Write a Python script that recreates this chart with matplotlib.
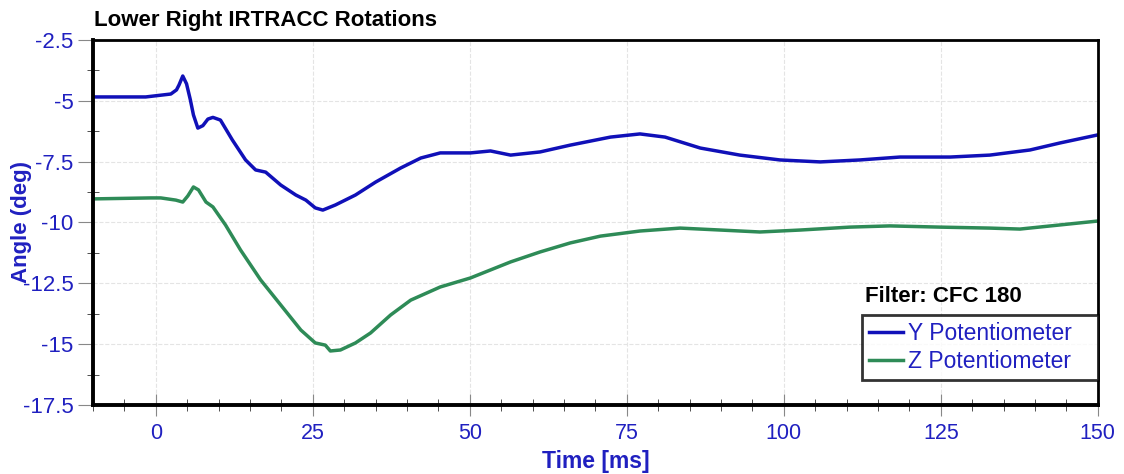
import matplotlib.pyplot as plt
from matplotlib.ticker import MultipleLocator

plt.rcParams['font.family'] = ['Liberation Sans', 'DejaVu Sans']

# Y potentiometer
t_y = [-10, -1.6, 2.4, 3.3, 3.7, 4.3, 4.9, 5.5, 6.0, 6.7, 7.5, 8.3, 9.1, 10.3,
       12.2, 14.3, 15.9, 17.5, 19.9, 22.3, 23.9, 25.4, 26.6, 28.6, 31.8, 35,
       39, 42.2, 45.3, 50.1, 53.3, 56.5, 61.2, 66, 72.4, 77.1, 81.1, 86.7, 93,
       99.4, 105.8, 112.1, 118.5, 126.5, 132.8, 139.2, 144, 150]
y_pot = [-4.84, -4.84, -4.72, -4.55, -4.35, -3.98, -4.30, -4.95, -5.58, -6.12,
         -6.02, -5.75, -5.68, -5.79, -6.61, -7.43, -7.84, -7.93, -8.46, -8.87,
         -9.08, -9.40, -9.49, -9.28, -8.87, -8.34, -7.76, -7.35, -7.14, -7.14,
         -7.06, -7.23, -7.10, -6.82, -6.49, -6.36, -6.49, -6.94, -7.23, -7.43,
         -7.51, -7.43, -7.31, -7.31, -7.23, -7.02, -6.73, -6.40]

# Z potentiometer
t_z = [-10, -0.8, 0.8, 3.2, 4.3, 5.1, 6.0, 6.8, 8.0, 9.1, 11.1, 13.5, 16.7, 19.9,
       23.1, 25.4, 27, 27.8, 29.4, 31.8, 34.2, 37.4, 40.6, 45.3, 50.1, 53.3,
       56.5, 61.2, 66, 70.8, 77.1, 83.5, 89.9, 96.2, 102.6, 110.5, 116.9, 124.9,
       132.8, 137.6, 144, 150]
z_pot = [-9.03, -8.99, -8.99, -9.08, -9.16, -8.91, -8.54, -8.66, -9.16, -9.36,
         -10.1, -11.13, -12.36, -13.39, -14.42, -14.95, -15.04, -15.28, -15.24,
         -14.95, -14.54, -13.8, -13.19, -12.65, -12.28, -11.95, -11.62, -11.21,
         -10.84, -10.56, -10.35, -10.23, -10.31, -10.39, -10.31, -10.19, -10.14,
         -10.19, -10.23, -10.27, -10.1, -9.94]

blue = '#1010b8'
label_blue = '#2020c0'
green = '#2e8b57'

fig = plt.figure(figsize=(11.24, 4.74), dpi=100)
ax = fig.add_axes([0.0827, 0.1456, 0.894, 0.77])

# trailing spaces give the wider right margin seen in the legend box
ax.plot(t_y, y_pot, color=blue, lw=2.5, label='Y Potentiometer   ')
ax.plot(t_z, z_pot, color=green, lw=2.5, label='Z Potentiometer   ')

ax.set_xlim(-10, 150)
ax.set_ylim(-17.5, -2.5)
ax.xaxis.set_major_locator(MultipleLocator(25))
ax.xaxis.set_minor_locator(MultipleLocator(5))
ax.yaxis.set_minor_locator(MultipleLocator(1.25))
ax.set_yticks([-17.5, -15, -12.5, -10, -7.5, -5, -2.5])
ax.set_yticklabels(['-17.5', '-15', '-12.5', '-10', '-7.5', '-5', '-2.5'])

ax.grid(True, which='major', color='#e4e4e4', ls='--', lw=0.8)
ax.tick_params(axis='y', which='major', direction='out', length=11, color='#888888',
               labelsize=16, labelcolor=label_blue, pad=3)
ax.tick_params(axis='y', which='minor', direction='inout', length=9, color='#333333')
ax.tick_params(axis='x', which='major', direction='inout', length=16, color='#888888',
               labelsize=15.5, labelcolor=label_blue, pad=5)
ax.tick_params(axis='x', which='minor', direction='inout', length=9, color='#333333')

for s in ['left', 'bottom']:
    ax.spines[s].set_linewidth(2.8)
for s in ['top', 'right']:
    ax.spines[s].set_linewidth(2.0)

ax.set_xlabel('Time [ms]', color=label_blue, fontsize=16.5, fontweight='bold')
ax.set_ylabel('Angle (deg)', color=label_blue, fontsize=16, fontweight='bold')
ax.xaxis.set_label_coords(0.5, -0.122)
ax.yaxis.set_label_coords(-0.061, 0.5)
fig.text(0.084, 0.957, 'Lower Right IRTRACC Rotations', fontsize=16, fontweight='bold',
         color='black', va='center')

leg = ax.legend(loc='lower right', bbox_to_anchor=(1.0, 0.068), fontsize=16.5,
                frameon=True, fancybox=False, edgecolor='black', handlelength=1.5,
                handletextpad=0.2, borderpad=0.3, labelspacing=0.25, borderaxespad=0)
leg.get_frame().set_linewidth(2.0)
for txt in leg.get_texts():
    txt.set_color(label_blue)
ax.text(0.768, 0.298, 'Filter: CFC 180', transform=ax.transAxes, fontsize=16,
        fontweight='bold', color='black', va='center')

fig.savefig('out.png', dpi=100)
